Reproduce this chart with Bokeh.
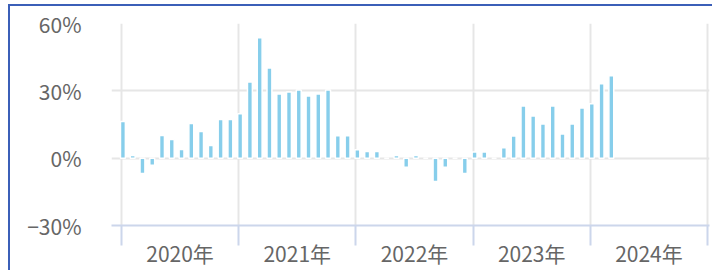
from bokeh.plotting import figure
from bokeh.models import ColumnDataSource, FixedTicker, Range1d
from bokeh.embed import file_html
from bokeh.resources import INLINE

# ---- data -------------------------------------------------------------
months = [f"{y}-{m:02d}" for y in range(2020, 2025) for m in range(1, 13)][:51]
yoy = [16.3, 1.2, -6.8, -3.2, 10.1, 8.3, 3.9, 15.4, 11.9, 5.6, 17.2, 17.2,
       19.8, 33.9, 53.6, 40.2, 28.6, 29.5, 30.4, 27.7, 28.6, 30.4, 10.0, 10.0,
       3.8, 3.0, 3.0, 0.0, 1.2, -4.1, 1.2, 0.0, -10.4, -4.1, 0.0, -6.8,
       2.8, 2.8, 0.0, 4.6, 9.9, 23.2, 18.8, 15.2, 23.2, 10.8, 15.2, 22.4,
       24.3, 33.2, 36.7]
year_labels = ["2020年", "2021年", "2022年", "2023年", "2024年"]
y_ticks = [-30, 0, 30, 60]
y_tick_labels = ["−30%", "0%", "30%", "60%"]

# month index (0 = 2020-01); bars sit just after the month start
x_pos = [i + 0.15 for i in range(len(months))]
src = ColumnDataSource(dict(x=x_pos, yoy=yoy, month=months))

FONT = "Noto Sans CJK JP"
TXT = "#666666"
GRID = "#e6e6e6"
AXIS = "#ccd6eb"
BORDER = "#3b5fb8"

p = figure(frame_width=598, frame_height=202,
           x_range=Range1d(-1.02, 60.2), y_range=Range1d(-30, 60),
           output_backend="svg", toolbar_location=None,
           min_border_left=101, min_border_right=3,
           min_border_top=17, min_border_bottom=45)
p.styles = {"margin": "4px 0px 0px 8px",
            "border-left": f"2px solid {BORDER}",
            "border-top": f"2px solid {BORDER}"}
p.outline_line_color = None
p.background_fill_color = "white"
p.border_fill_color = "white"

p.vbar(x="x", top="yoy", bottom=0, width=0.5, source=src,
       fill_color="#87ceeb", line_color="white", line_width=1.5)

# x axis: labels mid-year, ticks/grid at year starts
year_starts = [12 * i for i in range(len(year_labels) + 1)]
mid_years = [12 * i + 6 for i in range(len(year_labels))]
xa = p.xaxis[0]
xa.ticker = FixedTicker(ticks=mid_years, minor_ticks=year_starts)
xa.major_label_overrides = {m: lab for m, lab in zip(mid_years, year_labels)}
xa.major_tick_line_color = None
xa.major_tick_out = 0
xa.major_tick_in = 0
xa.minor_tick_out = 20
xa.minor_tick_in = 0
xa.minor_tick_line_color = AXIS
xa.minor_tick_line_width = 2
xa.axis_line_color = AXIS
xa.axis_line_width = 2
xa.major_label_standoff = -8
xa.major_label_text_font = FONT
xa.major_label_text_font_size = "21px"
xa.major_label_text_color = TXT

p.xgrid.ticker = FixedTicker(ticks=year_starts)
p.xgrid.grid_line_color = GRID
p.xgrid.grid_line_width = 2

ya = p.yaxis[0]
ya.ticker = FixedTicker(ticks=y_ticks)
ya.major_label_overrides = {t: lab for t, lab in zip(y_ticks, y_tick_labels)}
ya.axis_line_color = None
ya.major_tick_line_color = None
ya.minor_tick_line_color = None
ya.major_tick_out = 0
ya.major_label_standoff = 30
ya.major_label_text_font = FONT
ya.major_label_text_font_size = "21px"
ya.major_label_text_color = TXT

p.ygrid.grid_line_color = GRID
p.ygrid.grid_line_width = 2

open("out.html", "w").write(file_html(p, INLINE))
